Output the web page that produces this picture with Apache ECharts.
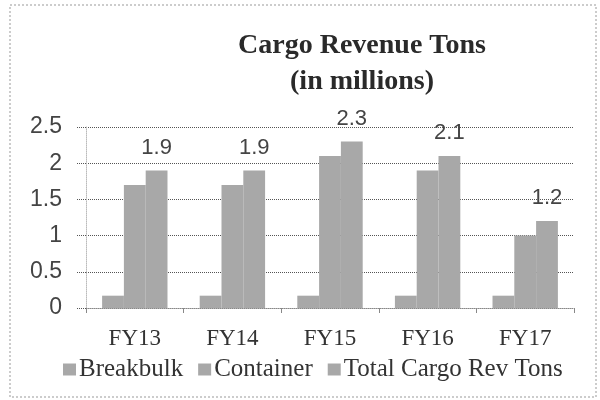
<!DOCTYPE html>
<html>
<head>
<meta charset="utf-8">
<script src="https://cdn.jsdelivr.net/npm/echarts@6/dist/echarts.min.js"></script>
<style>
  html, body { margin: 0; padding: 0; background: #fff; }
  #chart { width: 600px; height: 400px; }
</style>
</head>
<body>
<div id="chart"></div>
<script>
// 财年分类
var years = ["FY13", "FY14", "FY15", "FY16", "FY17"];
// 各系列数值（百万吨）
var breakbulk = [0.17, 0.17, 0.17, 0.17, 0.17];
var container = [1.7, 1.7, 2.1, 1.9, 1.0];
var totalTons = [1.9, 1.9, 2.3, 2.1, 1.2];
var yTicks = [0, 0.5, 1, 1.5, 2, 2.5];

var myChart = echarts.init(document.getElementById("chart"));
var barColor = "#a8a8a8";
var serif = "Liberation Serif";
var sans = "Liberation Sans";

var option = {
  backgroundColor: "#fff",
  animation: false,
  title: {
    text: "Cargo Revenue Tons\n(in millions)",
    left: 357,
    top: 23,
    textAlign: "center",
    textStyle: {
      fontFamily: serif,
      fontWeight: "bold",
      fontSize: 28,
      lineHeight: 36,
      color: "#2a2a2a"
    }
  },
  graphic: [
    {
      type: "rect",
      shape: { x: 10, y: 5, width: 586, height: 392 },
      style: { fill: "none", stroke: "#999", lineWidth: 1, lineDash: [2, 2] }
    }
  ],
  legend: {
    top: 352,
    left: 58,
    itemWidth: 13,
    itemHeight: 12,
    itemGap: 15,
    icon: "rect",
    textStyle: { fontFamily: serif, fontSize: 25, color: "#333", padding: [0, 0, 0, -2] },
    data: ["Breakbulk", "Container", "Total Cargo Rev Tons"]
  },
  grid: {
    left: 86,
    right: 26,
    top: 127,
    bottom: 92
  },
  xAxis: {
    type: "category",
    data: years,
    axisLine: { lineStyle: { color: "#888", type: "dotted" } },
    axisTick: { show: true, length: 5, lineStyle: { color: "#888" } },
    axisLabel: {
      fontFamily: serif,
      fontSize: 23,
      color: "#333",
      margin: 19
    }
  },
  yAxis: {
    type: "value",
    min: yTicks[0],
    max: yTicks[yTicks.length - 1],
    interval: 0.5,
    axisLine: { show: true, lineStyle: { color: "#bbb", type: "dotted" } },
    axisTick: { show: true, length: 10, lineStyle: { color: "#555", type: "dotted" } },
    splitLine: { lineStyle: { color: "#555", type: "dotted", width: 1 } },
    axisLabel: {
      fontFamily: sans,
      fontSize: 23,
      color: "#444",
      margin: 24
    }
  },
  series: [
    {
      name: "Breakbulk",
      type: "bar",
      data: breakbulk,
      itemStyle: { color: barColor },
      barGap: "0%",
      barCategoryGap: "33%"
    },
    {
      name: "Container",
      type: "bar",
      data: container,
      itemStyle: { color: barColor }
    },
    {
      name: "Total Cargo Rev Tons",
      type: "bar",
      data: totalTons,
      itemStyle: { color: barColor },
      label: {
        show: true,
        position: "top",
        distance: 12,
        fontFamily: sans,
        fontSize: 22,
        color: "#444"
      }
    }
  ]
};
myChart.setOption(option);
</script>
</body>
</html>
